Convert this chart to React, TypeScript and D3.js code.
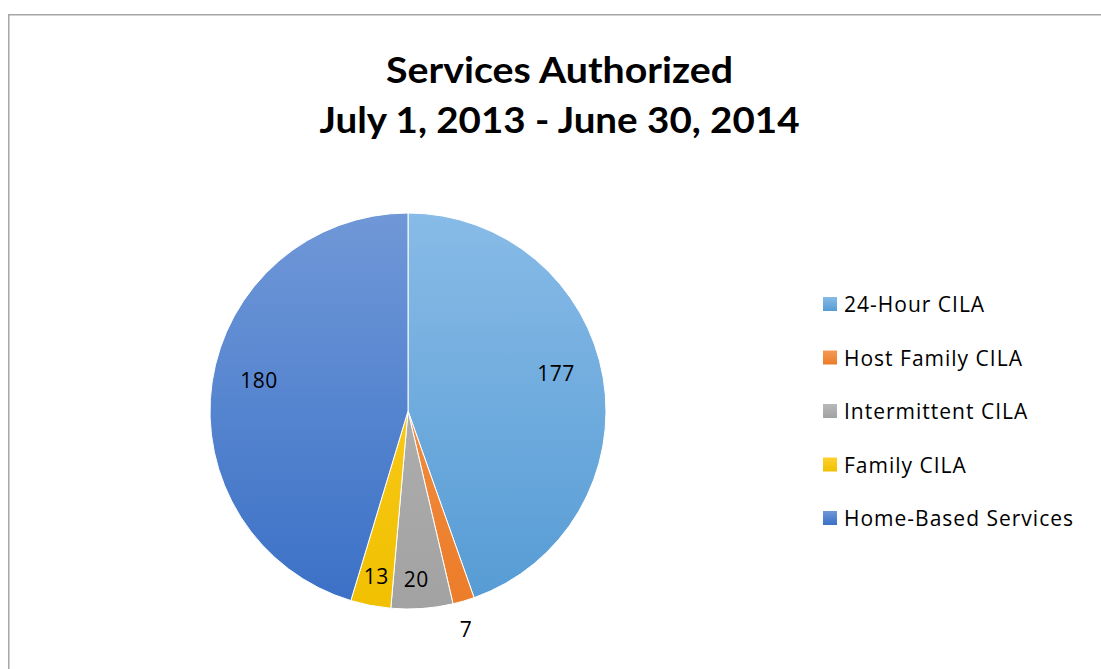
import React from "react";
import * as d3 from "d3";

const categories = ["24-Hour CILA", "Host Family CILA", "Intermittent CILA", "Family CILA", "Home-Based Services"];
const values = [177, 7, 20, 13, 180];
const titleLines = ["Services Authorized", "July 1, 2013 - June 30, 2014"];
const colorsTop = ["#88bbe7", "#f49a55", "#b8b8b8", "#ffd02e", "#7098d8"];
const colorsBottom = ["#559bd4", "#ec7c28", "#a2a2a2", "#f0c000", "#3a70c6"];
const labelRadiusFactor = [0.772, 1.14, 0.85, 0.85, 0.769];
const labelAngleOffsetDeg = [-4.7, 1.4, 1.3, 0, 3.4];

const W = 1101;
const H = 669;
const cx = 408;
const cy = 411;
const R = 198;
const FONT = "Lato, 'Open Sans', sans-serif";
const LEGEND_FONT = "'Open Sans', Lato, sans-serif";

export default function App() {
  const pie = d3.pie<number>().sort(null).value((d) => d);
  const arcs = pie(values);
  const arc = d3.arc<d3.PieArcDatum<number>>().innerRadius(0).outerRadius(R);

  const legendY = d3.scalePoint<string>().domain(categories).range([297, 511]);

  return (
    <div style={{ position: "absolute", left: 0, top: 0 }}>
      <svg width={W} height={H} style={{ display: "block" }}>
        <defs>
          {categories.map((c, i) => (
            <linearGradient key={c} id={`g${i}`} gradientUnits="userSpaceOnUse" x1={0} y1={-R} x2={0} y2={R}>
              <stop offset="0%" stopColor={colorsTop[i]} />
              <stop offset="100%" stopColor={colorsBottom[i]} />
            </linearGradient>
          ))}
          {categories.map((c, i) => (
            <linearGradient key={c + "l"} id={`lg${i}`} x1={0} y1={0} x2={0} y2={1}>
              <stop offset="0%" stopColor={colorsTop[i]} />
              <stop offset="100%" stopColor={colorsBottom[i]} />
            </linearGradient>
          ))}
        </defs>
        <rect x={0} y={0} width={W} height={H} fill="#ffffff" />
        <rect x={8.75} y={14.75} width={W + 20} height={H + 20} fill="none" stroke="#a6a6a6" strokeWidth={1.5} />
        {titleLines.map((t, i) => (
          <text
            key={t}
            x={559.5}
            y={83 + i * 50}
            textAnchor="middle"
            fontFamily={FONT}
            fontWeight="bold"
            fontSize={36}
            fill="#000"
            textLength={i === 0 ? 347 : 480}
            lengthAdjust="spacingAndGlyphs"
          >
            {t}
          </text>
        ))}
        <g transform={`translate(${cx},${cy})`}>
          {arcs.map((a, i) => (
            <path key={"p" + i} d={arc(a) || ""} fill={`url(#g${i})`} stroke="#ffffff" strokeWidth={1} />
          ))}
        </g>
        {arcs.map((a, i) => {
          const mid = (a.startAngle + a.endAngle) / 2 + (labelAngleOffsetDeg[i] * Math.PI) / 180;
          const r = R * labelRadiusFactor[i];
          const x = cx + Math.sin(mid) * r;
          const y = cy - Math.cos(mid) * r;
          return (
            <text
              key={"t" + i}
              x={x}
              y={y}
              textAnchor="middle"
              dominantBaseline="central"
              fontFamily={LEGEND_FONT}
              fontSize={21}
              letterSpacing={0.5}
              fill="#000"
            >
              {values[i]}
            </text>
          );
        })}
        {categories.map((c, i) => (
          <g key={"lg" + c}>
            <rect x={823} y={legendY(c)!} width={14} height={14} fill={`url(#lg${i})`} />
            <text
              x={844}
              y={(legendY(c) as number) + 15}
              fontFamily={LEGEND_FONT}
              fontSize={21}
              letterSpacing={1}
              fill="#000"
            >
              {c}
            </text>
          </g>
        ))}
      </svg>
    </div>
  );
}
